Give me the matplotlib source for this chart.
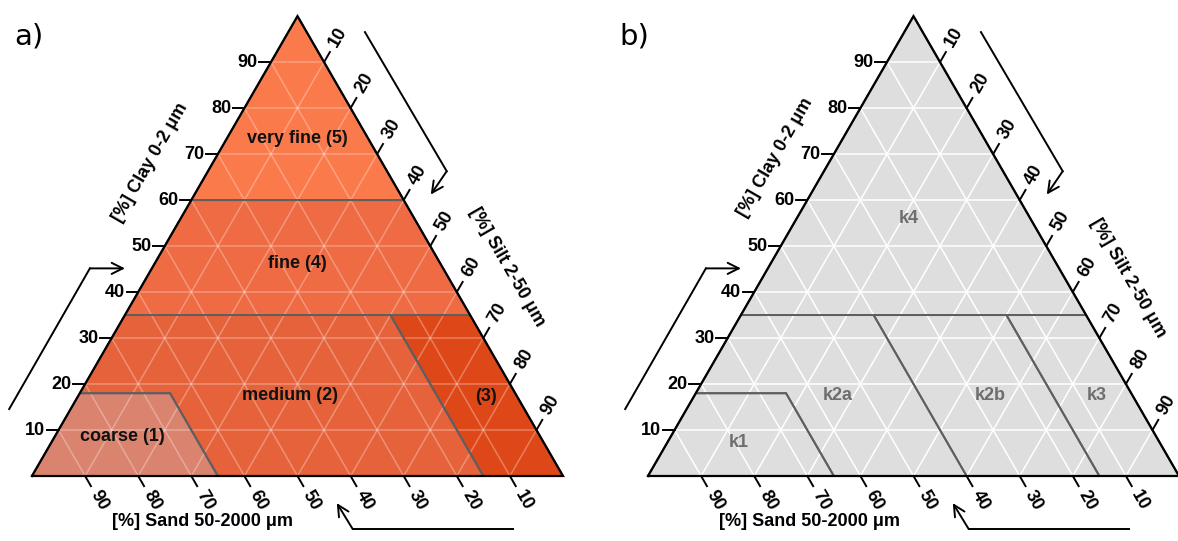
import numpy as np
import matplotlib
matplotlib.use("Agg")
import matplotlib.pyplot as plt
from matplotlib.patches import Polygon

# axis ticks (percent)
clay_ticks = [10, 20, 30, 40, 50, 60, 70, 80, 90]
silt_ticks = [10, 20, 30, 40, 50, 60, 70, 80, 90]
sand_ticks = [10, 20, 30, 40, 50, 60, 70, 80, 90]

# texture classes, vertices as (clay %, silt %)
names_a = ["coarse (1)", "medium (2)", "(3)", "fine (4)", "very fine (5)"]
polys_a = [
    [(0, 0), (0, 35), (18, 17), (18, 0)],
    [(0, 35), (0, 85), (35, 50), (35, 0), (18, 0), (18, 17)],
    [(0, 85), (0, 100), (35, 65), (35, 50)],
    [(35, 0), (35, 65), (60, 40), (60, 0)],
    [(60, 0), (60, 40), (100, 0)],
]
names_b = ["k1", "k2a", "k2b", "k3", "k4"]
polys_b = [
    [(0, 0), (0, 35), (18, 17), (18, 0)],
    [(0, 35), (0, 60), (35, 25), (35, 0), (18, 0), (18, 17)],
    [(0, 60), (0, 85), (35, 50), (35, 25)],
    [(0, 85), (0, 100), (35, 65), (35, 50)],
    [(35, 0), (35, 65), (100, 0)],
]

SQ = np.sqrt(3) / 2
SCALE = 5.31  # pixels per percent
W, H = 1178, 541
FONT = "Liberation Sans"


def tern(clay, silt):
    clay = np.asarray(clay, float)
    silt = np.asarray(silt, float)
    return silt + clay / 2, clay * SQ


def setup_axes(fig, x0, y0):
    ax = fig.add_axes([0, 0, 1, 1])
    ax.set_xlim(-x0 / SCALE, (W - x0) / SCALE)
    ax.set_ylim((y0 - H) / SCALE, y0 / SCALE)
    ax.axis("off")
    ax.patch.set_alpha(0)
    return ax


def draw_panel(ax, names, polys, colors, label_pos, text_color, grid_alpha,
               letter, letter_x, clay_title_pos, silt_title_pos, sand_title_pos):
    # class fills
    for poly, col in zip(polys, colors):
        pts = np.array(poly, float)
        x, y = tern(pts[:, 0], pts[:, 1])
        ax.add_patch(Polygon(np.c_[x, y], closed=True, facecolor=col,
                             edgecolor="none", zorder=1))
    # grid
    for v in clay_ticks:
        ax.plot(*tern([v, v], [0, 100 - v]), color="white", lw=1.1,
                alpha=grid_alpha, zorder=2)
        ax.plot(*tern([0, 100 - v], [v, v]), color="white", lw=1.1,
                alpha=grid_alpha, zorder=2)
        ax.plot(*tern([0, 100 - v], [100 - v, 0]), color="white", lw=1.1,
                alpha=grid_alpha, zorder=2)
    # class boundaries
    for poly in polys:
        pts = np.array(poly, float)
        x, y = tern(pts[:, 0], pts[:, 1])
        ax.add_patch(Polygon(np.c_[x, y], closed=True, facecolor="none",
                             edgecolor="#5f5f5f", lw=1.4, zorder=3))
    # outline
    ox, oy = tern([0, 0, 100, 0], [0, 100, 0, 0])
    ax.plot(ox, oy, color="black", lw=1.6, zorder=4, solid_joinstyle="miter")

    # class labels
    for name, (c, s) in zip(names, label_pos):
        x, y = tern(c, s)
        ax.text(x, y, name, ha="center", va="center", fontsize=13,
                fontweight="bold", color=text_color, family=FONT, zorder=5)

    tl = 2.2
    # clay ticks (left edge)
    for v in clay_ticks:
        x, y = tern(v, 0)
        ax.plot([x, x - tl], [y, y], color="black", lw=1.4)
        ax.text(x - tl - 0.3, y, str(v), ha="right", va="center",
                fontsize=13, fontweight="bold", family=FONT)
    # silt ticks (right edge)
    d = np.array([0.5, SQ])
    for v in silt_ticks:
        x, y = tern(100 - v, v)
        ax.plot([x, x + d[0] * tl], [y, y + d[1] * tl], color="black", lw=1.4)
        ax.text(x + d[0] * (tl + 3.2), y + d[1] * (tl + 3.2), str(v),
                ha="center", va="center", rotation=60, fontsize=13,
                fontweight="bold", family=FONT)
    # sand ticks (bottom edge)
    d = np.array([0.5, -SQ])
    for v in sand_ticks:
        x, y = tern(0, 100 - v)
        ax.plot([x, x + d[0] * tl], [y, y + d[1] * tl], color="black", lw=1.4)
        ax.text(x + d[0] * (tl + 3.1), y + d[1] * (tl + 3.1), str(v),
                ha="center", va="center", rotation=-60, fontsize=13,
                fontweight="bold", family=FONT)

    # axis titles
    ax.text(*clay_title_pos, "[%] Clay 0-2 \u03bcm", rotation=60, ha="center",
            va="center", fontsize=13, fontweight="bold", family=FONT)
    ax.text(*silt_title_pos, "[%] Silt 2-50 \u03bcm", rotation=-60, ha="center",
            va="center", fontsize=13, fontweight="bold", family=FONT)
    ax.text(*sand_title_pos, "[%] Sand 50-2000 \u03bcm", ha="center",
            va="center", fontsize=13, fontweight="bold", family=FONT)

    # direction arrows
    arrows = [
        [(-4.3, 12.6), (10.9, 39.1), (17.5, 39.1)],
        [(62.7, 83.6), (78.1, 57.4), (75.1, 53.0)],
        [(90.6, -10.0), (60.4, -10.0), (57.4, -5.1)],
    ]
    for p0, p1, p2 in arrows:
        ax.plot([p0[0], p1[0]], [p0[1], p1[1]], color="black", lw=1.4)
        ax.annotate("", xy=p2, xytext=p1,
                    arrowprops=dict(arrowstyle="->", color="black", lw=1.4,
                                    mutation_scale=20, shrinkA=0, shrinkB=0))

    ax.text(letter_x, 82.8, letter, ha="left", va="center", fontsize=21,
            family="DejaVu Sans")


fig = plt.figure(figsize=(W / 100, H / 100), dpi=100)

ax_a = setup_axes(fig, 32, 476)
colors_a = ["#DA8470", "#E6623B", "#DE4818", "#EE6B43", "#FB7A4B"]
labels_a = [(8.5, 12.7), (17.6, 39.8), (17.2, 76.9), (46.3, 26.8), (73.5, 13.2)]
draw_panel(ax_a, names_a, polys_a, colors_a, labels_a, "#111111", 0.3,
           "a)", -3.3, (22.2, 59.1), (89.5, 39.4), (32.2, -8.6))

ax_b = setup_axes(fig, 648, 476)
colors_b = ["#DEDEDE"] * 5
labels_b = [(7.2, 13.4), (17.6, 27.0), (17.6, 55.7), (17.6, 75.7), (56.0, 21.1)]
draw_panel(ax_b, names_b, polys_b, colors_b, labels_b, "#6e6e6e", 1.0,
           "b)", -5.4, (23.9, 59.9), (90.4, 37.3), (30.5, -8.6))

fig.savefig("out.png", dpi=100)
